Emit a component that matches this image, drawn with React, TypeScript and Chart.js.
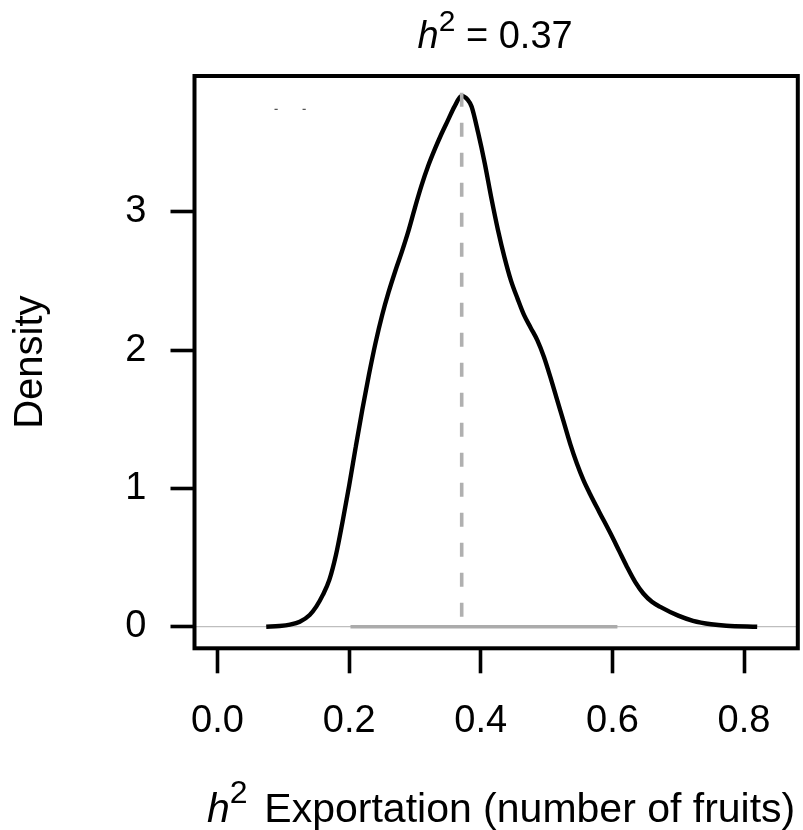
import React, { useEffect, useRef } from "react";
import { Chart, registerables } from "chart.js";

Chart.register(...registerables);

// ---- data ----
const xTickValues = [0, 0.2, 0.4, 0.6, 0.8];
const xTickLabels = ["0.0", "0.2", "0.4", "0.6", "0.8"];
const yTickValues = [0, 1, 2, 3];
const yTickLabels = ["0", "1", "2", "3"];

const xRange = [-0.035, 0.8817];
const yRange = [-0.156, 3.981];

const densityX = [
  0.074, 0.094, 0.11, 0.125, 0.14, 0.15, 0.16, 0.17, 0.18, 0.19, 0.2, 0.21,
  0.22, 0.23, 0.24, 0.25, 0.26, 0.27, 0.28, 0.29, 0.3, 0.31, 0.32, 0.33, 0.34,
  0.35, 0.36, 0.371, 0.38, 0.386, 0.396, 0.406, 0.416, 0.426, 0.436, 0.446,
  0.456, 0.466, 0.476, 0.486, 0.496, 0.506, 0.516, 0.526, 0.536, 0.546, 0.556,
  0.566, 0.58, 0.597, 0.61, 0.622, 0.635, 0.647, 0.66, 0.672, 0.7, 0.7225,
  0.75, 0.773, 0.82,
];
const densityY = [
  0, 0.005, 0.015, 0.036, 0.085, 0.145, 0.23, 0.34, 0.52, 0.76, 1.02, 1.3,
  1.57, 1.82, 2.05, 2.25, 2.42, 2.57, 2.71, 2.86, 3.03, 3.19, 3.33, 3.45, 3.56,
  3.66, 3.76, 3.837, 3.81, 3.76, 3.57, 3.35, 3.1, 2.87, 2.67, 2.5, 2.37, 2.25,
  2.16, 2.07, 1.95, 1.8, 1.64, 1.48, 1.32, 1.18, 1.06, 0.96, 0.83, 0.675, 0.55,
  0.434, 0.32, 0.24, 0.18, 0.145, 0.08, 0.043, 0.018, 0.007, 0,
];

const intervalX = [0.202, 0.6076];
const estimateX = 0.371;
const estimateTop = 3.86;
const markX = [0.089, 0.1316];
const markY = 3.74;

const titleParts = ["h", "2", " = 0.37"];
const xLabelParts = ["h", "2", "Exportation (number of fruits)"];
const yLabel = "Density";

const FAMILY = "'Liberation Sans', Arial, Helvetica, sans-serif";

function drawParts(
  ctx: CanvasRenderingContext2D,
  parts: { t: string; font: string; dy: number; gap?: number }[],
  centerX: number,
  baseline: number
) {
  let total = 0;
  const widths = parts.map((p) => {
    ctx.font = p.font;
    const w = ctx.measureText(p.t).width + (p.gap || 0);
    total += w;
    return w;
  });
  let x = centerX - total / 2;
  parts.forEach((p, i) => {
    ctx.font = p.font;
    ctx.fillText(p.t, x, baseline + p.dy);
    x += widths[i];
  });
}

const textPlugin = {
  id: "rtexts",
  afterDraw(chart: any) {
    const ctx: CanvasRenderingContext2D = chart.ctx;
    const { left, right, top, bottom } = chart.chartArea;
    ctx.save();
    // box
    ctx.strokeStyle = "#000";
    ctx.lineWidth = 4;
    ctx.strokeRect(left, top, right - left, bottom - top);

    ctx.fillStyle = "#000";
    ctx.textAlign = "left";
    ctx.textBaseline = "alphabetic";
    const cx = (left + right) / 2;
    // title
    drawParts(
      ctx,
      [
        { t: titleParts[0], font: `italic 38px ${FAMILY}`, dy: 0 },
        { t: titleParts[1], font: `30px ${FAMILY}`, dy: -17 },
        { t: titleParts[2], font: `38px ${FAMILY}`, dy: 0 },
      ],
      cx - 1,
      top - 28
    );
    // x label
    drawParts(
      ctx,
      [
        { t: xLabelParts[0], font: `italic 41px ${FAMILY}`, dy: 0 },
        { t: xLabelParts[1], font: `32px ${FAMILY}`, dy: -19, gap: 16.7 },
        { t: xLabelParts[2], font: `41px ${FAMILY}`, dy: 0 },
      ],
      cx + 5,
      bottom + 173.3
    );
    // y label
    ctx.translate(42, (top + bottom) / 2);
    ctx.rotate(-Math.PI / 2);
    ctx.textAlign = "center";
    ctx.font = `40px ${FAMILY}`;
    ctx.fillText(yLabel, 0, 0);
    ctx.restore();
  },
};

export default function App() {
  const ref = useRef<HTMLCanvasElement | null>(null);

  useEffect(() => {
    if (!ref.current) return;
    const curve = densityX.map((x, i) => ({ x, y: densityY[i] }));
    const chart = new Chart(ref.current, {
      type: "line",
      data: {
        datasets: [
          {
            label: "estimate",
            data: [
              { x: estimateX, y: estimateTop },
              { x: estimateX, y: 0 },
            ],
            borderColor: "#B0B0B0",
            borderWidth: 3.6,
            borderDash: [14, 16],
            pointRadius: 0,
            tension: 0,
          },
          {
            label: "interval",
            data: intervalX.map((x) => ({ x, y: 0 })),
            borderColor: "#ABABAB",
            borderWidth: 3.6,
            pointRadius: 0,
            tension: 0,
          },
          {
            label: "density",
            data: curve,
            borderColor: "#000000",
            borderWidth: 4.4,
            pointRadius: 0,
            cubicInterpolationMode: "monotone",
          },
          {
            label: "zero",
            data: xRange.map((x) => ({ x, y: 0 })),
            borderColor: "#BEBEBE",
            borderWidth: 1.2,
            pointRadius: 0,
            tension: 0,
          },
          {
            label: "marks",
            data: markX.map((x) => ({ x, y: markY })),
            showLine: false,
            pointStyle: "line",
            pointRadius: 1.6,
            borderWidth: 1.2,
            borderColor: "#555555",
          },
        ],
      },
      options: {
        animation: false,
        responsive: false,
        devicePixelRatio: 1,
        layout: { padding: { top: 76, right: 0.5, left: 0, bottom: 0 } },
        plugins: {
          legend: { display: false },
          tooltip: { enabled: false },
          title: { display: false },
        },
        scales: {
          x: {
            type: "linear",
            min: xRange[0],
            max: xRange[1],
            afterBuildTicks: (s: any) => {
              s.ticks = xTickValues.map((v) => ({ value: v }));
            },
            afterFit: (s: any) => {
              s.height = 181.7;
            },
            ticks: {
              autoSkip: false,
              maxRotation: 0,
              minRotation: 0,
              padding: 25,
              color: "#000",
              font: { family: FAMILY, size: 38 },
              callback: (_v: any, i: number) => xTickLabels[i],
            },
            grid: {
              drawOnChartArea: false,
              drawTicks: true,
              tickLength: 25,
              tickWidth: 3.6,
              tickColor: "#000",
              color: "#000",
            },
            border: { display: false },
          },
          y: {
            type: "linear",
            min: yRange[0],
            max: yRange[1],
            afterBuildTicks: (s: any) => {
              s.ticks = yTickValues.map((v) => ({ value: v }));
            },
            afterFit: (s: any) => {
              s.width = 194.5;
            },
            ticks: {
              autoSkip: false,
              padding: 24,
              color: "#000",
              font: { family: FAMILY, size: 38 },
              callback: (_v: any, i: number) => yTickLabels[i],
            },
            grid: {
              drawOnChartArea: false,
              drawTicks: true,
              tickLength: 24,
              tickWidth: 3.6,
              tickColor: "#000",
              color: "#000",
            },
            border: { display: false },
          },
        },
      },
      plugins: [textPlugin],
    } as any);
    return () => chart.destroy();
  }, []);

  return (
    <div style={{ position: "absolute", left: 0, top: 0, width: 803, height: 830, background: "#fff" }}>
      <canvas ref={ref} width={803} height={830} style={{ display: "block", width: 803, height: 830 }} />
    </div>
  );
}
